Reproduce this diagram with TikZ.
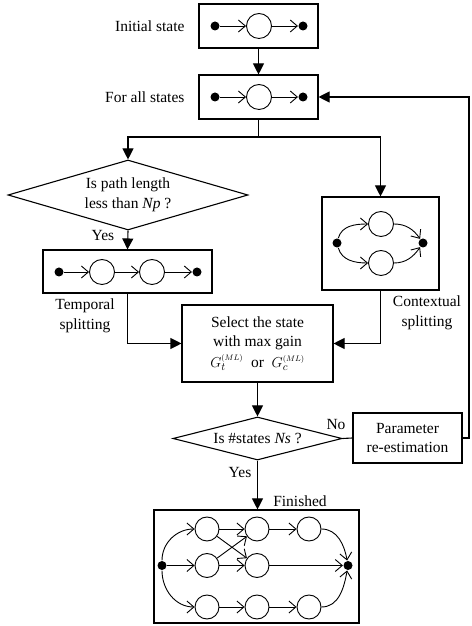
\documentclass[tikz,border=0pt]{standalone}
\usepackage{fontspec}
\setmainfont{Liberation Serif}
\usetikzlibrary{positioning, shapes.geometric, arrows.meta}

\begin{document}
\begin{tikzpicture}[x=1pt, y=1pt, line width=1.1pt,
      every node/.style={font=\fontsize{15.5}{19.5}\selectfont},
      block/.style={rectangle, draw, inner sep=0pt, align=center},
      decision/.style={diamond, draw, inner sep=0pt, align=center},
      hstate/.style={circle, draw, line width=0.9pt, minimum size=25pt, inner sep=0pt},
      dot/.style={circle, fill, minimum size=9pt, inner sep=0pt},
      note/.style={align=center, inner sep=0pt},
      flow/.style={-{Triangle[length=11pt,width=11pt]}},
      trans/.style={-{Straight Barb[length=7pt,width=12pt]}, line width=0.9pt}
    ]
      \useasboundingbox (0,0) rectangle (471,626);

      \node[block, minimum width=119pt, minimum height=44pt] (init) at (258.5,600) {};
      \node[note, anchor=east] (initlab) at (185,600) {Initial state};
      \node[dot] (init-l) at (215,600) {};
      \node[hstate] (init-s) at (259,600) {};
      \node[dot] (init-r) at (303,600) {};
      \draw[trans] (init-l) -- (init-s);
      \draw[trans] (init-s) -- (init-r);

      \node[block, minimum width=119pt, minimum height=44pt] (all) at (258.5,529) {};
      \node[note, anchor=east] (alllab) at (185,529) {For all states};
      \node[dot] (all-l) at (215,529) {};
      \node[hstate] (all-s) at (259,529) {};
      \node[dot] (all-r) at (303,529) {};
      \draw[trans] (all-l) -- (all-s);
      \draw[trans] (all-s) -- (all-r);

      \coordinate (fork) at (258.5,489);
      \node[decision, aspect=3.4, minimum width=240pt, minimum height=70pt] (pathlen) at (128,431)
        {Is path length\\less than \textit{Np} ?};
      \node[note] (yes1) at (103,390) {Yes};

      \node[block, minimum width=169pt, minimum height=43pt] (temp) at (127.5,354.5) {};
      \node[dot] (temp-l) at (59,354) {};
      \node[hstate] (temp-a) at (102,354) {};
      \node[hstate] (temp-b) at (152,354) {};
      \node[dot] (temp-r) at (197,354) {};
      \draw[trans] (temp-l) -- (temp-a);
      \draw[trans] (temp-a) -- (temp-b);
      \draw[trans] (temp-b) -- (temp-r);
      \node[note] (templab) at (85,310) {Temporal\\splitting};

      \node[block, minimum width=117pt, minimum height=93pt] (ctx) at (380.5,382.5) {};
      \node[dot] (ctx-l) at (337,383) {};
      \node[hstate] (ctx-u) at (381,402) {};
      \node[hstate] (ctx-d) at (381,363) {};
      \node[dot] (ctx-r) at (423,383) {};
      \draw[trans] (ctx-l) to[out=75,in=180] (ctx-u);
      \draw[trans] (ctx-u) to[out=0,in=125] (ctx-r);
      \draw[trans] (ctx-l) to[out=-75,in=180] (ctx-d);
      \draw[trans] (ctx-d) to[out=0,in=-125] (ctx-r);
      \node[note] (ctxlab) at (427,313) {Contextual\\splitting};

      \node[block, minimum width=151pt, minimum height=77pt] (select) at (257.5,282.5)
        {Select the state\\with max gain\\[1pt]$G_t^{\scriptscriptstyle(ML)}$\ \ or\ \ $G_c^{\scriptscriptstyle(ML)}$};

      \node[decision, aspect=3.8, minimum width=169pt, minimum height=43pt] (states) at (257.5,187.5)
        {Is \#states \textit{Ns} ?};
      \node[note] (no) at (336,201) {No};
      \node[block, minimum width=109pt, minimum height=50pt] (param) at (407.5,188)
        {Parameter\\re-estimation};
      \node[note] (yes2) at (240,153) {Yes};
      \node[note] (finlab) at (300,125) {Finished};

      \node[block, minimum width=205pt, minimum height=113pt] (fin) at (256.5,59.5) {};
      \node[dot] (fin-l) at (162,60.5) {};
      \node[dot] (fin-r) at (348,60.5) {};
      \node[hstate, minimum size=24pt] (s11) at (207,97) {};
      \node[hstate, minimum size=24pt] (s12) at (257,97) {};
      \node[hstate, minimum size=24pt] (s13) at (309,97) {};
      \node[hstate, minimum size=24pt] (s21) at (207,60.5) {};
      \node[hstate, minimum size=24pt] (s22) at (257,60.5) {};
      \node[hstate, minimum size=24pt] (s31) at (207,19) {};
      \node[hstate, minimum size=24pt] (s32) at (257,19) {};
      \node[hstate, minimum size=24pt] (s33) at (309,19) {};
      \draw[trans] (fin-l) to[out=90,in=180] (s11);
      \draw[trans] (fin-l) -- (s21);
      \draw[trans] (fin-l) to[out=-90,in=180] (s31);
      \foreach \a/\b in {s11/s12, s11/s22, s21/s12, s21/s22, s12/s13, s31/s32, s32/s33, s22/fin-r}
        \draw[trans] (\a) -- (\b);
      \draw[trans] (s13) to[out=0,in=100] (fin-r);
      \draw[trans] (s33) to[out=0,in=-100] (fin-r);

      \draw[flow] (init) -- (all);
      \draw (all) -- (fork);
      \draw[flow] (fork) -| (pathlen.north);
      \draw[flow] (fork) -| (ctx.north);
      \draw[flow] (pathlen.south) -- (temp.north);
      \draw[flow] (temp.south) |- (select.west);
      \draw[flow] (ctx.south) |- (select.east);
      \draw[flow] (select) -- (states);
      \draw (states.east) -- (param.west);
      \coordinate (ret) at (469,0);
      \draw[flow] (param.east) -- (param.east -| ret) |- (all.east);
      \draw[flow] (states.south) -- (states.south |- fin.north);
    \end{tikzpicture}
\end{document}
